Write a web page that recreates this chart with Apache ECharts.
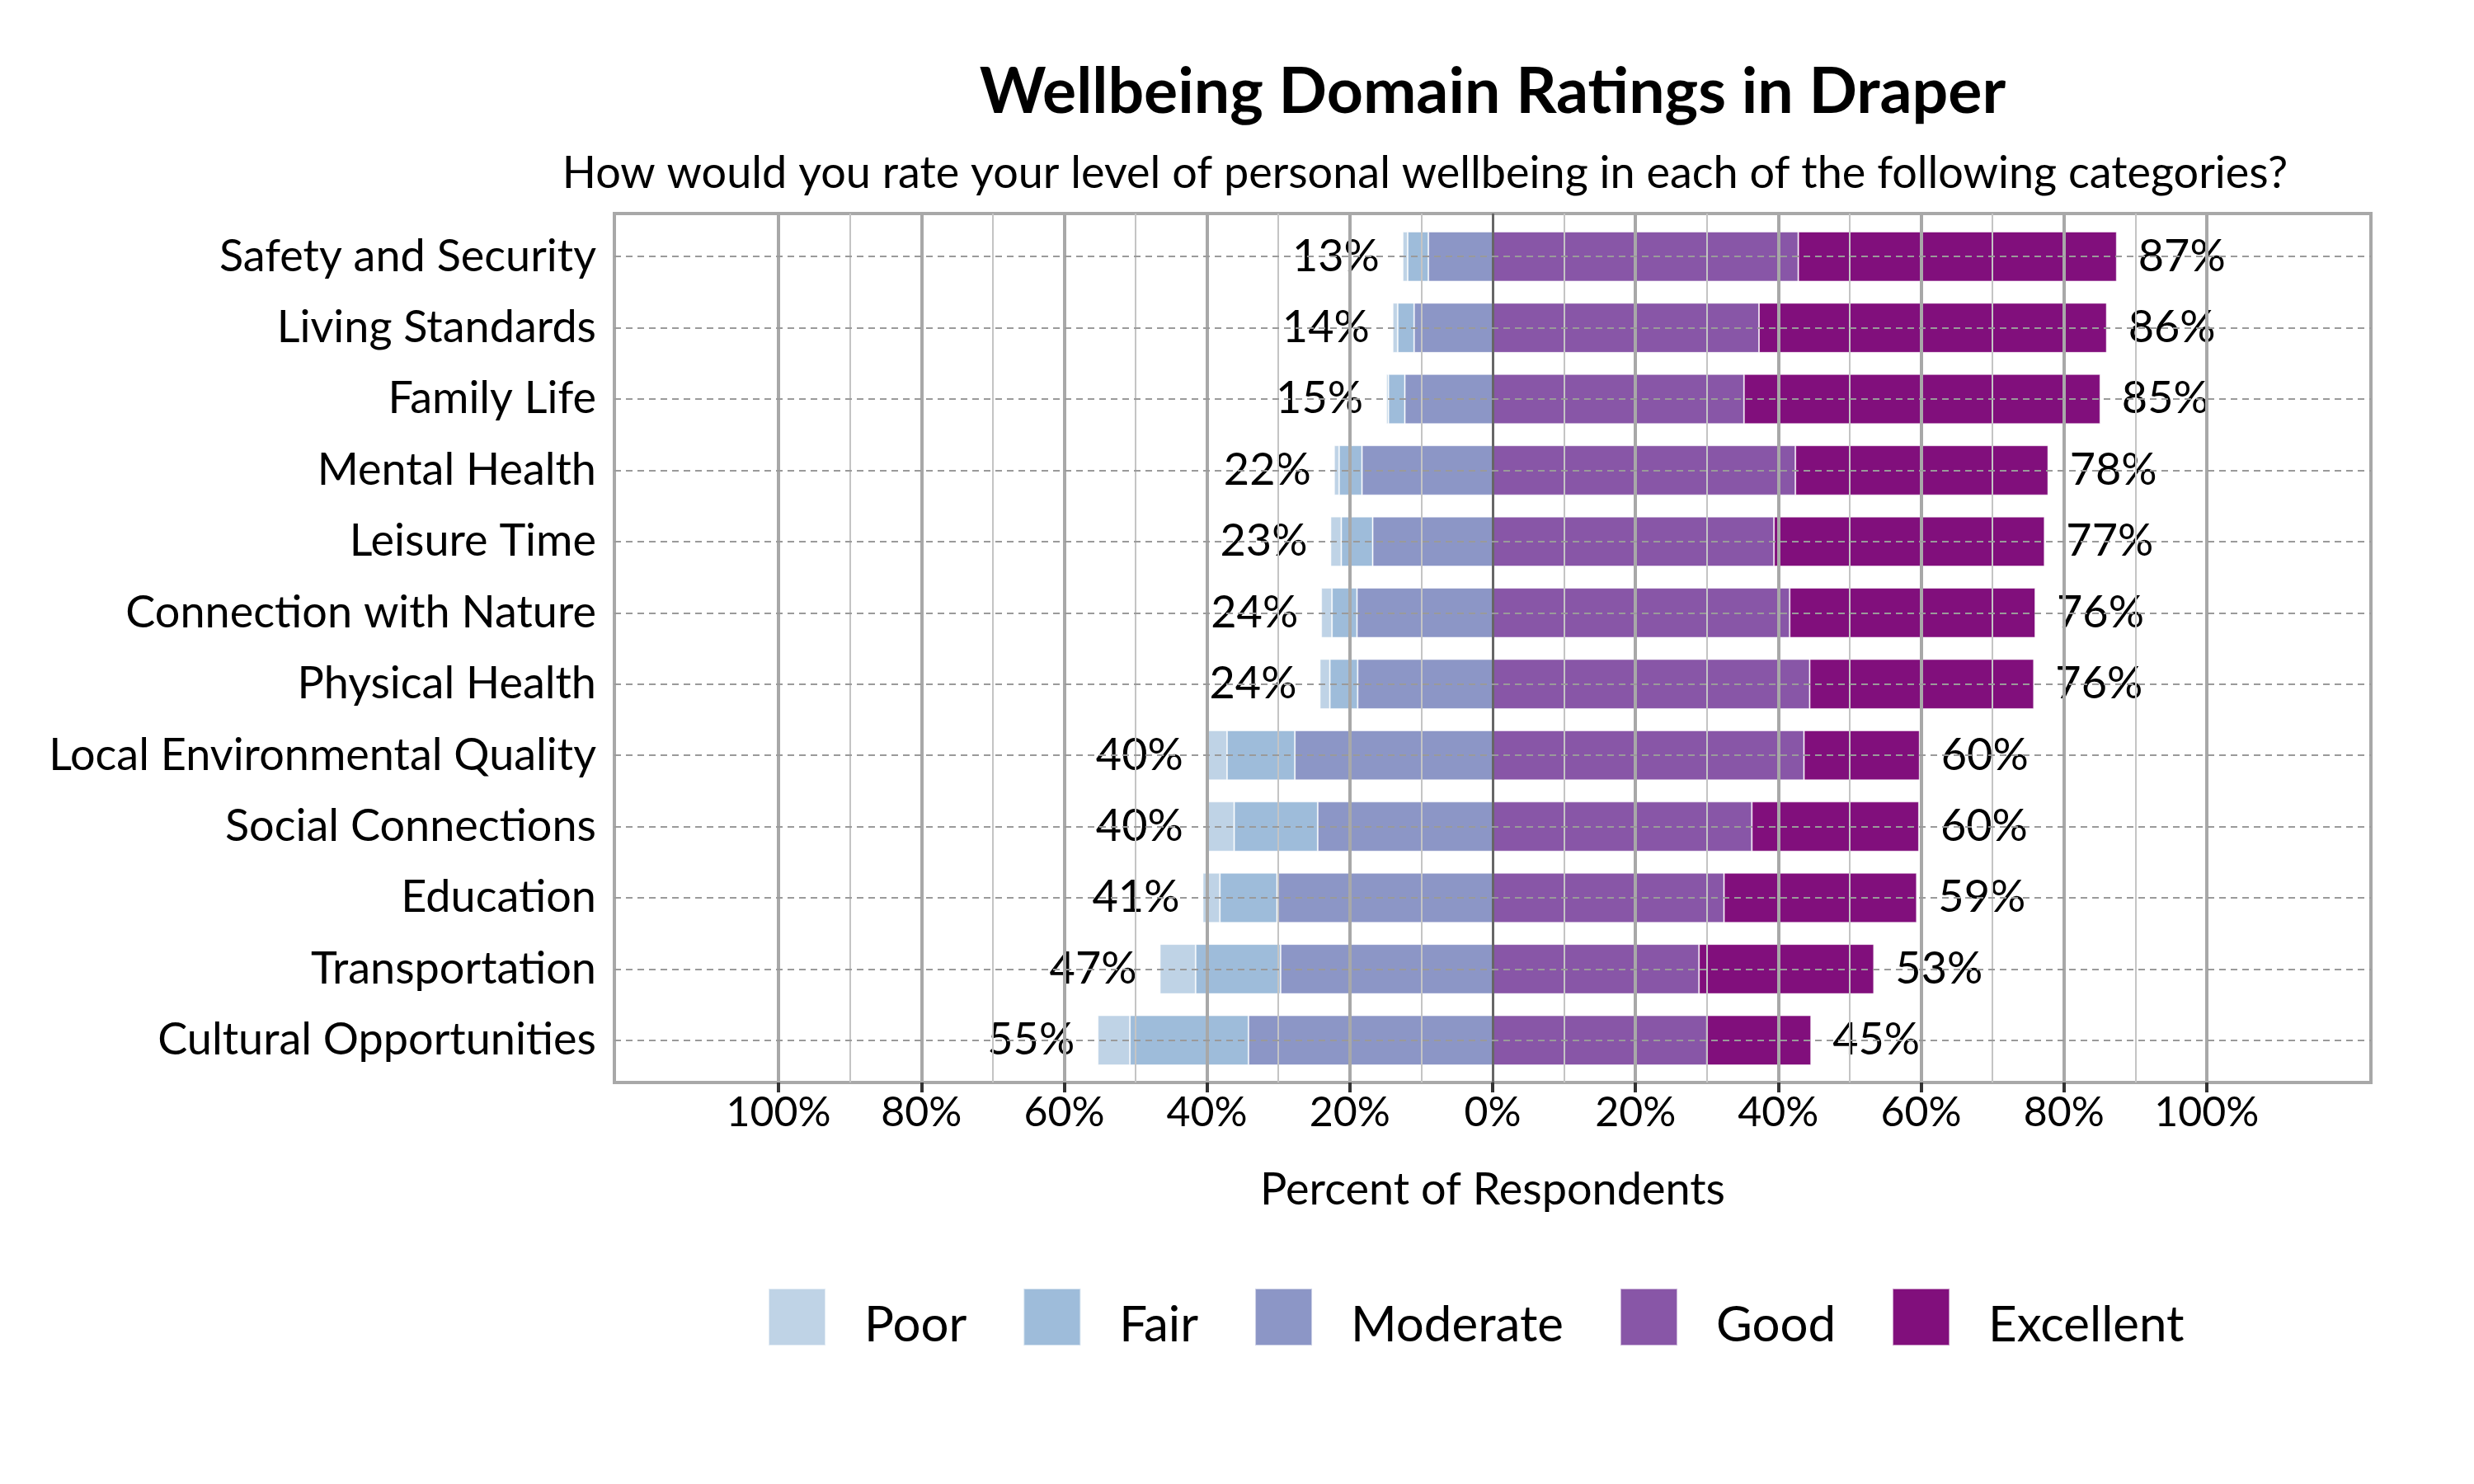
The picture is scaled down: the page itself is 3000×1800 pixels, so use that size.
<!DOCTYPE html>
<html><head><meta charset="utf-8">
<script src="https://cdn.jsdelivr.net/npm/echarts@6/dist/echarts.min.js"></script>
<style>html,body{margin:0;padding:0;background:#fff}#c{width:3000px;height:1800px}</style>
</head><body><div id="c"></div>
<script>
const categories = ['Safety and Security','Living Standards','Family Life','Mental Health','Leisure Time','Connection with Nature','Physical Health','Local Environmental Quality','Social Connections','Education','Transportation','Cultural Opportunities'];
const poor      = [0.7, 0.7, 0.3, 0.7, 1.5, 1.5, 1.4, 2.9, 3.9, 2.4, 5.0, 4.5];
const fair      = [2.9, 2.3, 2.3, 3.2, 4.4, 3.5, 3.9, 9.5, 11.7, 8.0, 11.9, 16.6];
const moderate  = [9.0, 11.0, 12.3, 18.3, 16.8, 19.0, 18.9, 27.7, 24.5, 30.2, 29.7, 34.2];
const good      = [42.8, 37.3, 35.2, 42.4, 39.4, 41.6, 44.4, 43.6, 36.3, 32.4, 28.9, 30.0];
const excellent = [44.6, 48.7, 49.9, 35.4, 37.9, 34.4, 31.4, 16.2, 23.4, 27.0, 24.5, 14.6];
const majorTicks = [-100, -80, -60, -40, -20, 0, 20, 40, 60, 80, 100];
const minorTicks = [-90, -70, -50, -30, -10, 10, 30, 50, 70, 90];
const legendOrder = ['Poor', 'Fair', 'Moderate', 'Good', 'Excellent'];

const FONT = 'Lato';
const negTotals = categories.map((_, i) => poor[i] + fair[i] + moderate[i]);
const posTotals = categories.map((_, i) => good[i] + excellent[i]);

const chart = echarts.init(document.getElementById('c'));

const gridLineData = []
  .concat(minorTicks.map(v => ({xAxis: v, lineStyle: {color: '#c4c4c4', width: 2, type: 'solid'}})))
  .concat(majorTicks.filter(v => v !== 0).map(v => ({xAxis: v, lineStyle: {color: '#a8a8a8', width: 4, type: 'solid'}})))
  .concat([{xAxis: 0, lineStyle: {color: '#666666', width: 3, type: 'solid'}}]);

const barStyle = c => ({color: c, borderColor: 'rgba(255,255,255,0.55)', borderWidth: 1});
const labelBase = {
  show: true, fontFamily: FONT, fontSize: 54, color: '#000',
  backgroundColor: '#fff', padding: [2, 4], borderRadius: 5
};

chart.setOption({
  animation: false,
  textStyle: {fontFamily: FONT},
  graphic: [
    {type: 'text', x: 1810, y: 112, style: {text: 'Wellbeing Domain Ratings in Draper', font: 'bold 77px ' + FONT, fill: '#000', textAlign: 'center', textVerticalAlign: 'middle'}},
    {type: 'text', x: 1728, y: 211, style: {text: 'How would you rate your level of personal wellbeing in each of the following categories?', font: '54px ' + FONT, fill: '#000', textAlign: 'center', textVerticalAlign: 'middle'}}
  ],
  legend: {
    data: legendOrder,
    left: 931, top: 1562, padding: 0,
    itemWidth: 69, itemHeight: 69, itemGap: 68,
    icon: 'rect',
    formatter: name => '{t|' + name + '}',
    textStyle: {
      fontFamily: FONT, fontSize: 60, color: '#000', padding: [0, 0, 0, 42],
      rich: {t: {fontFamily: FONT, fontSize: 60, color: '#000', padding: [20, 0, 0, 0]}}
    }
  },
  grid: [
    {left: 745, top: 259, width: 2130, height: 1054, show: true, borderColor: '#a8a8a8', borderWidth: 4, backgroundColor: 'transparent'},
    {left: 745, top: 268, width: 2130, height: 1037}
  ],
  xAxis: [
    {
      type: 'value', gridIndex: 0, min: -123, max: 123,
      axisLine: {show: false},
      axisTick: {show: true, customValues: majorTicks, length: 12, lineStyle: {color: '#333', width: 4}},
      axisLabel: {customValues: majorTicks, formatter: v => Math.abs(v) + '%', fontFamily: FONT, fontSize: 50, color: '#000', margin: 12},
      splitLine: {show: false},
      name: 'Percent of Respondents', nameLocation: 'middle', nameGap: 104,
      nameTextStyle: {fontFamily: FONT, fontSize: 54, color: '#000'}
    },
    {type: 'value', gridIndex: 1, min: -123, max: 123, show: false, splitLine: {show: false}}
  ],
  yAxis: [
    {type: 'value', gridIndex: 0, min: 0, max: 1, show: false, splitLine: {show: false}},
    {
      type: 'category', gridIndex: 1, data: categories, inverse: true,
      axisLine: {show: false}, axisTick: {show: false}, splitLine: {show: false},
      axisLabel: {fontFamily: FONT, fontSize: 54, color: '#000', margin: 22}
    }
  ],
  series: [
    {
      name: 'gridlines', type: 'line', xAxisIndex: 0, yAxisIndex: 0, data: [[0, 0.5]],
      symbol: 'none', lineStyle: {width: 0}, silent: true, z: 1,
      markLine: {silent: true, symbol: 'none', label: {show: false}, animation: false, data: gridLineData}
    },
    {
      name: 'catlines', type: 'line', xAxisIndex: 1, yAxisIndex: 1, data: [],
      symbol: 'none', lineStyle: {width: 0}, silent: true, z: 1,
      markLine: {silent: true, symbol: 'none', label: {show: false}, animation: false,
        lineStyle: {color: '#9a9a9a', width: 2, type: [8, 6]},
        data: categories.map(c => ({yAxis: c}))}
    },
    {name: 'Moderate', type: 'bar', stack: 'all', xAxisIndex: 1, yAxisIndex: 1, barWidth: '70%', z: 3,
      itemStyle: barStyle('#8c96c6'), data: moderate.map(v => -v)},
    {name: 'Fair', type: 'bar', stack: 'all', xAxisIndex: 1, yAxisIndex: 1, barWidth: '70%', z: 3,
      itemStyle: barStyle('#9ebcda'), data: fair.map(v => -v)},
    {name: 'Poor', type: 'bar', stack: 'all', xAxisIndex: 1, yAxisIndex: 1, barWidth: '70%', z: 3,
      itemStyle: barStyle('#bfd3e6'), data: poor.map(v => -v),
      label: Object.assign({}, labelBase, {position: 'left', distance: 24, formatter: p => Math.round(negTotals[p.dataIndex]) + '%'})},
    {name: 'Good', type: 'bar', stack: 'all', xAxisIndex: 1, yAxisIndex: 1, barWidth: '70%', z: 3,
      itemStyle: barStyle('#8856a7'), data: good},
    {name: 'Excellent', type: 'bar', stack: 'all', xAxisIndex: 1, yAxisIndex: 1, barWidth: '70%', z: 3,
      itemStyle: barStyle('#810f7c'), data: excellent,
      label: Object.assign({}, labelBase, {position: 'right', distance: 22, formatter: p => Math.round(posTotals[p.dataIndex]) + '%'})}
  ]
});
</script>
</body></html>
